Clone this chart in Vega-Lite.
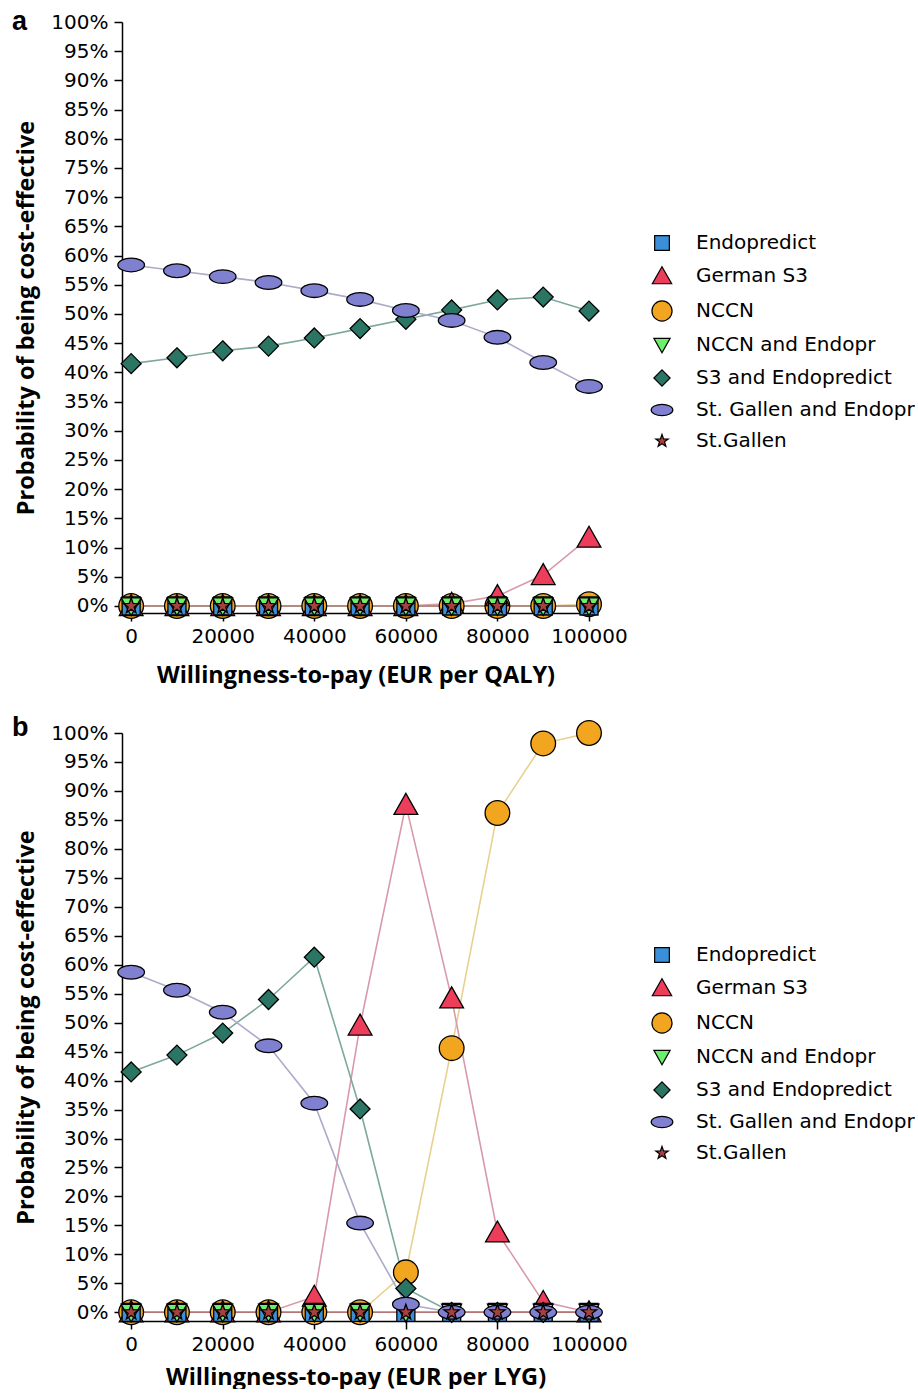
{
  "$schema": "https://vega.github.io/schema/vega-lite/v6.json",
  "padding": {"left": 12, "top": 8, "right": 0, "bottom": 0},
  "background": "white",
  "datasets": {
    "qaly": [
      {"series": "NCCN", "wtp": 0, "p": 0}, {"series": "NCCN", "wtp": 10000, "p": 0}, {"series": "NCCN", "wtp": 20000, "p": 0}, {"series": "NCCN", "wtp": 30000, "p": 0}, {"series": "NCCN", "wtp": 40000, "p": 0}, {"series": "NCCN", "wtp": 50000, "p": 0}, {"series": "NCCN", "wtp": 60000, "p": 0}, {"series": "NCCN", "wtp": 70000, "p": 0}, {"series": "NCCN", "wtp": 80000, "p": 0}, {"series": "NCCN", "wtp": 90000, "p": 0}, {"series": "NCCN", "wtp": 100000, "p": 0.003},
      {"series": "German S3", "wtp": 0, "p": 0}, {"series": "German S3", "wtp": 10000, "p": 0}, {"series": "German S3", "wtp": 20000, "p": 0}, {"series": "German S3", "wtp": 30000, "p": 0}, {"series": "German S3", "wtp": 40000, "p": 0}, {"series": "German S3", "wtp": 50000, "p": 0}, {"series": "German S3", "wtp": 60000, "p": 0}, {"series": "German S3", "wtp": 70000, "p": 0.004}, {"series": "German S3", "wtp": 80000, "p": 0.017}, {"series": "German S3", "wtp": 90000, "p": 0.053}, {"series": "German S3", "wtp": 100000, "p": 0.117},
      {"series": "Endopredict", "wtp": 0, "p": 0}, {"series": "Endopredict", "wtp": 10000, "p": 0}, {"series": "Endopredict", "wtp": 20000, "p": 0}, {"series": "Endopredict", "wtp": 30000, "p": 0}, {"series": "Endopredict", "wtp": 40000, "p": 0}, {"series": "Endopredict", "wtp": 50000, "p": 0}, {"series": "Endopredict", "wtp": 60000, "p": 0}, {"series": "Endopredict", "wtp": 70000, "p": 0}, {"series": "Endopredict", "wtp": 80000, "p": 0}, {"series": "Endopredict", "wtp": 90000, "p": 0}, {"series": "Endopredict", "wtp": 100000, "p": 0},
      {"series": "NCCN and Endopr", "wtp": 0, "p": 0}, {"series": "NCCN and Endopr", "wtp": 10000, "p": 0}, {"series": "NCCN and Endopr", "wtp": 20000, "p": 0}, {"series": "NCCN and Endopr", "wtp": 30000, "p": 0}, {"series": "NCCN and Endopr", "wtp": 40000, "p": 0}, {"series": "NCCN and Endopr", "wtp": 50000, "p": 0}, {"series": "NCCN and Endopr", "wtp": 60000, "p": 0}, {"series": "NCCN and Endopr", "wtp": 70000, "p": 0}, {"series": "NCCN and Endopr", "wtp": 80000, "p": 0}, {"series": "NCCN and Endopr", "wtp": 90000, "p": 0}, {"series": "NCCN and Endopr", "wtp": 100000, "p": 0},
      {"series": "S3 and Endopredict", "wtp": 0, "p": 0.415}, {"series": "S3 and Endopredict", "wtp": 10000, "p": 0.425}, {"series": "S3 and Endopredict", "wtp": 20000, "p": 0.437}, {"series": "S3 and Endopredict", "wtp": 30000, "p": 0.445}, {"series": "S3 and Endopredict", "wtp": 40000, "p": 0.459}, {"series": "S3 and Endopredict", "wtp": 50000, "p": 0.475}, {"series": "S3 and Endopredict", "wtp": 60000, "p": 0.491}, {"series": "S3 and Endopredict", "wtp": 70000, "p": 0.507}, {"series": "S3 and Endopredict", "wtp": 80000, "p": 0.524}, {"series": "S3 and Endopredict", "wtp": 90000, "p": 0.529}, {"series": "S3 and Endopredict", "wtp": 100000, "p": 0.505},
      {"series": "St. Gallen and Endopr", "wtp": 0, "p": 0.584}, {"series": "St. Gallen and Endopr", "wtp": 10000, "p": 0.574}, {"series": "St. Gallen and Endopr", "wtp": 20000, "p": 0.564}, {"series": "St. Gallen and Endopr", "wtp": 30000, "p": 0.554}, {"series": "St. Gallen and Endopr", "wtp": 40000, "p": 0.540}, {"series": "St. Gallen and Endopr", "wtp": 50000, "p": 0.525}, {"series": "St. Gallen and Endopr", "wtp": 60000, "p": 0.506}, {"series": "St. Gallen and Endopr", "wtp": 70000, "p": 0.489}, {"series": "St. Gallen and Endopr", "wtp": 80000, "p": 0.460}, {"series": "St. Gallen and Endopr", "wtp": 90000, "p": 0.417}, {"series": "St. Gallen and Endopr", "wtp": 100000, "p": 0.376},
      {"series": "St.Gallen", "wtp": 0, "p": 0}, {"series": "St.Gallen", "wtp": 10000, "p": 0}, {"series": "St.Gallen", "wtp": 20000, "p": 0}, {"series": "St.Gallen", "wtp": 30000, "p": 0}, {"series": "St.Gallen", "wtp": 40000, "p": 0}, {"series": "St.Gallen", "wtp": 50000, "p": 0}, {"series": "St.Gallen", "wtp": 60000, "p": 0}, {"series": "St.Gallen", "wtp": 70000, "p": 0}, {"series": "St.Gallen", "wtp": 80000, "p": 0}, {"series": "St.Gallen", "wtp": 90000, "p": 0}, {"series": "St.Gallen", "wtp": 100000, "p": 0}
    ],
    "lyg": [
      {"series": "NCCN", "wtp": 0, "p": 0}, {"series": "NCCN", "wtp": 10000, "p": 0}, {"series": "NCCN", "wtp": 20000, "p": 0}, {"series": "NCCN", "wtp": 30000, "p": 0}, {"series": "NCCN", "wtp": 40000, "p": 0}, {"series": "NCCN", "wtp": 50000, "p": 0}, {"series": "NCCN", "wtp": 60000, "p": 0.069}, {"series": "NCCN", "wtp": 70000, "p": 0.456}, {"series": "NCCN", "wtp": 80000, "p": 0.862}, {"series": "NCCN", "wtp": 90000, "p": 0.982}, {"series": "NCCN", "wtp": 100000, "p": 1.0},
      {"series": "German S3", "wtp": 0, "p": 0}, {"series": "German S3", "wtp": 10000, "p": 0}, {"series": "German S3", "wtp": 20000, "p": 0}, {"series": "German S3", "wtp": 30000, "p": 0}, {"series": "German S3", "wtp": 40000, "p": 0.027}, {"series": "German S3", "wtp": 50000, "p": 0.495}, {"series": "German S3", "wtp": 60000, "p": 0.876}, {"series": "German S3", "wtp": 70000, "p": 0.542}, {"series": "German S3", "wtp": 80000, "p": 0.138}, {"series": "German S3", "wtp": 90000, "p": 0.018}, {"series": "German S3", "wtp": 100000, "p": 0},
      {"series": "Endopredict", "wtp": 0, "p": 0}, {"series": "Endopredict", "wtp": 10000, "p": 0}, {"series": "Endopredict", "wtp": 20000, "p": 0}, {"series": "Endopredict", "wtp": 30000, "p": 0}, {"series": "Endopredict", "wtp": 40000, "p": 0}, {"series": "Endopredict", "wtp": 50000, "p": 0}, {"series": "Endopredict", "wtp": 60000, "p": 0}, {"series": "Endopredict", "wtp": 70000, "p": 0}, {"series": "Endopredict", "wtp": 80000, "p": 0}, {"series": "Endopredict", "wtp": 90000, "p": 0}, {"series": "Endopredict", "wtp": 100000, "p": 0},
      {"series": "NCCN and Endopr", "wtp": 0, "p": 0}, {"series": "NCCN and Endopr", "wtp": 10000, "p": 0}, {"series": "NCCN and Endopr", "wtp": 20000, "p": 0}, {"series": "NCCN and Endopr", "wtp": 30000, "p": 0}, {"series": "NCCN and Endopr", "wtp": 40000, "p": 0}, {"series": "NCCN and Endopr", "wtp": 50000, "p": 0}, {"series": "NCCN and Endopr", "wtp": 60000, "p": 0}, {"series": "NCCN and Endopr", "wtp": 70000, "p": 0}, {"series": "NCCN and Endopr", "wtp": 80000, "p": 0}, {"series": "NCCN and Endopr", "wtp": 90000, "p": 0}, {"series": "NCCN and Endopr", "wtp": 100000, "p": 0},
      {"series": "S3 and Endopredict", "wtp": 0, "p": 0.415}, {"series": "S3 and Endopredict", "wtp": 10000, "p": 0.444}, {"series": "S3 and Endopredict", "wtp": 20000, "p": 0.482}, {"series": "S3 and Endopredict", "wtp": 30000, "p": 0.540}, {"series": "S3 and Endopredict", "wtp": 40000, "p": 0.613}, {"series": "S3 and Endopredict", "wtp": 50000, "p": 0.351}, {"series": "S3 and Endopredict", "wtp": 60000, "p": 0.041}, {"series": "S3 and Endopredict", "wtp": 70000, "p": 0}, {"series": "S3 and Endopredict", "wtp": 80000, "p": 0}, {"series": "S3 and Endopredict", "wtp": 90000, "p": 0}, {"series": "S3 and Endopredict", "wtp": 100000, "p": 0},
      {"series": "St. Gallen and Endopr", "wtp": 0, "p": 0.587}, {"series": "St. Gallen and Endopr", "wtp": 10000, "p": 0.556}, {"series": "St. Gallen and Endopr", "wtp": 20000, "p": 0.518}, {"series": "St. Gallen and Endopr", "wtp": 30000, "p": 0.460}, {"series": "St. Gallen and Endopr", "wtp": 40000, "p": 0.361}, {"series": "St. Gallen and Endopr", "wtp": 50000, "p": 0.154}, {"series": "St. Gallen and Endopr", "wtp": 60000, "p": 0.014}, {"series": "St. Gallen and Endopr", "wtp": 70000, "p": 0}, {"series": "St. Gallen and Endopr", "wtp": 80000, "p": 0}, {"series": "St. Gallen and Endopr", "wtp": 90000, "p": 0}, {"series": "St. Gallen and Endopr", "wtp": 100000, "p": 0},
      {"series": "St.Gallen", "wtp": 0, "p": 0}, {"series": "St.Gallen", "wtp": 10000, "p": 0}, {"series": "St.Gallen", "wtp": 20000, "p": 0}, {"series": "St.Gallen", "wtp": 30000, "p": 0}, {"series": "St.Gallen", "wtp": 40000, "p": 0}, {"series": "St.Gallen", "wtp": 50000, "p": 0}, {"series": "St.Gallen", "wtp": 60000, "p": 0}, {"series": "St.Gallen", "wtp": 70000, "p": 0}, {"series": "St.Gallen", "wtp": 80000, "p": 0}, {"series": "St.Gallen", "wtp": 90000, "p": 0}, {"series": "St.Gallen", "wtp": 100000, "p": 0}
    ]
  },
  "vconcat": [
    {
      "data": {"name": "qaly"},
      "width": 467,
      "height": 591,
      "title": {"text": "a", "dx": -110, "offset": -45, "baseline": "alphabetic"},
      "encoding": {
        "x": {"field": "wtp", "type": "quantitative", "scale": {"domain": [-2000, 100000], "nice": false, "zero": false},
              "axis": {"values": [0, 20000, 40000, 60000, 80000, 100000], "format": "d", "title": "Willingness-to-pay (EUR per QALY)", "labelFlush": false, "labelPadding": 5, "titlePadding": 17}},
        "y": {"field": "p", "type": "quantitative", "scale": {"domain": [-0.012, 1], "nice": false, "zero": false},
              "axis": {"values": [0, 0.05, 0.1, 0.15, 0.2, 0.25, 0.3, 0.35, 0.4, 0.45, 0.5, 0.55, 0.6, 0.65, 0.7, 0.75, 0.8, 0.85, 0.9, 0.95, 1], "format": ".0%", "title": "Probability of being cost-effective", "labelPadding": 6, "titlePadding": 12, "labelFlush": false}}
      },
      "layer": [
        {
          "mark": {"type": "line", "strokeWidth": 1.6},
          "encoding": {
            "detail": {"field": "series"},
            "stroke": {"field": "series", "type": "nominal", "legend": null,
              "scale": {"domain": ["St.Gallen", "St. Gallen and Endopr", "S3 and Endopredict", "NCCN and Endopr", "NCCN", "German S3", "Endopredict"],
                        "range": ["#b27474", "#ababca", "#7ea89e", "#a8e4a8", "#e8d08e", "#d89aaa", "#8fa8c4"]}}
          }
        },
        {
          "mark": {"type": "point", "filled": true, "stroke": "black", "strokeWidth": 1.3, "opacity": 1, "size": 361},
          "encoding": {
            "color": {"field": "series", "type": "nominal",
              "scale": {"domain": ["Endopredict", "German S3", "NCCN", "NCCN and Endopr", "S3 and Endopredict", "St. Gallen and Endopr", "St.Gallen"],
                        "range": ["#3b8fd9", "#ec3d5a", "#f2a51f", "#6cf06c", "#2b7565", "#8080d0", "#a84040"]},
              "legend": {"orient": "none", "legendX": 530, "legendY": 211, "title": null}},
            "shape": {"field": "series", "type": "nominal",
              "scale": {"domain": ["Endopredict", "German S3", "NCCN", "NCCN and Endopr", "S3 and Endopredict", "St. Gallen and Endopr", "St.Gallen"],
                        "range": ["M-0.95,-0.95H0.95V0.95H-0.95Z", "M0,-1.2L1.25,1H-1.25Z", "M-1.3,0A1.3,1.3,0,1,1,1.3,0A1.3,1.3,0,1,1,-1.3,0Z", "M-1.05,-0.85H1.05L0,1Z", "M0,-1.05L1.05,0L0,1.05L-1.05,0Z", "M-1.4,0A1.4,0.72,0,1,1,1.4,0A1.4,0.72,0,1,1,-1.4,0Z", "M0,-0.85L0.2,-0.28L0.81,-0.26L0.32,0.1L0.5,0.69L0,0.34L-0.5,0.69L-0.32,0.1L-0.81,-0.26L-0.2,-0.28Z"]},
              "legend": {"orient": "none", "legendX": 530, "legendY": 211, "title": null}}
          }
        }
      ]
    },
    {
      "data": {"name": "lyg"},
      "width": 467,
      "height": 588,
      "title": {"text": "b", "dx": -110, "offset": -45, "baseline": "alphabetic"},
      "encoding": {
        "x": {"field": "wtp", "type": "quantitative", "scale": {"domain": [-2000, 100000], "nice": false, "zero": false},
              "axis": {"values": [0, 20000, 40000, 60000, 80000, 100000], "format": "d", "title": "Willingness-to-pay (EUR per LYG)", "labelFlush": false, "labelPadding": 5, "titlePadding": 11}},
        "y": {"field": "p", "type": "quantitative", "scale": {"domain": [-0.015, 1], "nice": false, "zero": false},
              "axis": {"values": [0, 0.05, 0.1, 0.15, 0.2, 0.25, 0.3, 0.35, 0.4, 0.45, 0.5, 0.55, 0.6, 0.65, 0.7, 0.75, 0.8, 0.85, 0.9, 0.95, 1], "format": ".0%", "title": "Probability of being cost-effective", "labelPadding": 6, "titlePadding": 12, "labelFlush": false}}
      },
      "layer": [
        {
          "mark": {"type": "line", "strokeWidth": 1.6},
          "encoding": {
            "detail": {"field": "series"},
            "stroke": {"field": "series", "type": "nominal", "legend": null,
              "scale": {"domain": ["St.Gallen", "St. Gallen and Endopr", "S3 and Endopredict", "NCCN and Endopr", "NCCN", "German S3", "Endopredict"],
                        "range": ["#b27474", "#ababca", "#7ea89e", "#a8e4a8", "#e8d08e", "#d89aaa", "#8fa8c4"]}}
          }
        },
        {
          "mark": {"type": "point", "filled": true, "stroke": "black", "strokeWidth": 1.3, "opacity": 1, "size": 361},
          "encoding": {
            "color": {"field": "series", "type": "nominal",
              "scale": {"domain": ["Endopredict", "German S3", "NCCN", "NCCN and Endopr", "S3 and Endopredict", "St. Gallen and Endopr", "St.Gallen"],
                        "range": ["#3b8fd9", "#ec3d5a", "#f2a51f", "#6cf06c", "#2b7565", "#8080d0", "#a84040"]},
              "legend": {"orient": "none", "legendX": 530, "legendY": 212, "title": null}},
            "shape": {"field": "series", "type": "nominal",
              "scale": {"domain": ["Endopredict", "German S3", "NCCN", "NCCN and Endopr", "S3 and Endopredict", "St. Gallen and Endopr", "St.Gallen"],
                        "range": ["M-0.95,-0.95H0.95V0.95H-0.95Z", "M0,-1.2L1.25,1H-1.25Z", "M-1.3,0A1.3,1.3,0,1,1,1.3,0A1.3,1.3,0,1,1,-1.3,0Z", "M-1.05,-0.85H1.05L0,1Z", "M0,-1.05L1.05,0L0,1.05L-1.05,0Z", "M-1.4,0A1.4,0.72,0,1,1,1.4,0A1.4,0.72,0,1,1,-1.4,0Z", "M0,-0.85L0.2,-0.28L0.81,-0.26L0.32,0.1L0.5,0.69L0,0.34L-0.5,0.69L-0.32,0.1L-0.81,-0.26L-0.2,-0.28Z"]},
              "legend": {"orient": "none", "legendX": 530, "legendY": 212, "title": null}}
          }
        }
      ]
    }
  ],
  "spacing": 27,
  "resolve": {
    "scale": {"color": "independent", "stroke": "independent", "shape": "independent"},
    "legend": {"color": "independent", "stroke": "independent", "shape": "independent"}
  },
  "config": {
    "view": {"stroke": null},
    "axis": {"domainColor": "black", "tickColor": "black", "labelColor": "black", "titleColor": "black", "grid": false,
             "labelFont": "DejaVu Sans", "labelFontSize": 20, "titleFont": "Open Sans", "titleFontWeight": "bold", "titleFontSize": 23.5,
             "tickSize": 8, "domainWidth": 1.5, "tickWidth": 1.5},
    "legend": {"labelFont": "DejaVu Sans", "labelFontSize": 20, "labelColor": "black", "rowPadding": 11, "padding": 0,
               "symbolStrokeColor": "black", "symbolStrokeWidth": 1.2, "labelLimit": 400, "symbolSize": 240, "labelOffset": 24},
    "title": {"font": "Liberation Sans", "fontSize": 27, "fontWeight": "bold", "anchor": "start", "frame": "group", "color": "black"}
  }
}
